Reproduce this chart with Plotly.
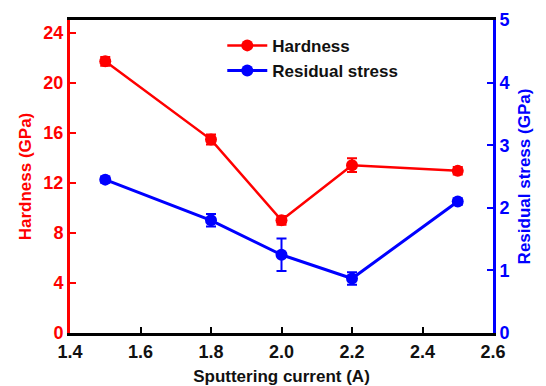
import plotly.graph_objects as go

# Sputtering current (A)
current = [1.5, 1.8, 2.0, 2.2, 2.5]
# Hardness (GPa) and its error
hardness = [21.7, 15.45, 9.0, 13.4, 12.95]
hardness_err = [0.35, 0.4, 0.35, 0.55, 0.3]
# Residual stress (GPa) and its error
stress = [2.45, 1.8, 1.25, 0.87, 2.1]
stress_err = [0.05, 0.1, 0.26, 0.1, 0.05]

x_ticks = [1.4, 1.6, 1.8, 2.0, 2.2, 2.4, 2.6]
x_tick_text = ["1.4", "1.6", "1.8", "2.0", "2.2", "2.4", "2.6"]
h_ticks = [0, 4, 8, 12, 16, 20, 24]
s_ticks = [0, 1, 2, 3, 4, 5]

RED = "#ff0000"
BLUE = "#0000ff"
FONT = "Liberation Sans, Arial, sans-serif"

fig = go.Figure()
fig.add_trace(go.Scatter(
    x=current, y=hardness, name="<b>Hardness</b>", mode="lines+markers",
    line=dict(color=RED, width=2.5),
    marker=dict(color=RED, size=12, symbol="circle"),
    error_y=dict(type="data", array=hardness_err, color=RED, thickness=2, width=5),
    yaxis="y",
))
fig.add_trace(go.Scatter(
    x=current, y=stress, name="<b>Residual stress</b>", mode="lines+markers",
    line=dict(color=BLUE, width=3),
    marker=dict(color=BLUE, size=12, symbol="circle"),
    error_y=dict(type="data", array=stress_err, color=BLUE, thickness=2, width=5),
    yaxis="y2",
))

fig.update_layout(
    width=546, height=386,
    margin=dict(l=70, r=53, t=20, b=53),
    paper_bgcolor="white", plot_bgcolor="white",
    font=dict(family=FONT, size=17, color="black"),
    showlegend=True,
    legend=dict(x=0.36, y=0.975, xanchor="left", yanchor="top",
                bgcolor="rgba(0,0,0,0)", font=dict(size=17, color="#111"),
                itemwidth=40, tracegroupgap=0),
    xaxis=dict(
        range=[1.4, 2.6], tickvals=x_ticks, ticktext=[f"<b>{t}</b>" for t in x_tick_text],
        ticks="inside", ticklen=6, tickwidth=2, tickcolor="black",
        showline=True, linecolor="black", linewidth=3, mirror=True,
        showgrid=False, zeroline=False, automargin=False,
        tickfont=dict(size=18, color="#111"),
        title=dict(text="<b>Sputtering current (A)</b>", font=dict(size=17, color="#111"), standoff=14),
    ),
    yaxis=dict(
        range=[0, 25], tickvals=h_ticks, ticktext=[f"<b>{t}</b>" for t in h_ticks],
        ticks="inside", ticklen=6, tickwidth=2, tickcolor=RED,
        showline=True, linecolor=RED, linewidth=3,
        showgrid=False, zeroline=False, automargin=False,
        tickfont=dict(size=18, color=RED),
        title=dict(text="<b>Hardness (GPa)</b>", font=dict(size=17, color=RED), standoff=8),
    ),
    yaxis2=dict(
        range=[0, 5], tickvals=s_ticks, ticktext=[f"<b>{t}</b>" for t in s_ticks],
        overlaying="y", side="right",
        ticks="inside", ticklen=6, tickwidth=2, tickcolor=BLUE,
        showline=True, linecolor=BLUE, linewidth=3,
        showgrid=False, zeroline=False, automargin=False,
        tickfont=dict(size=18, color=BLUE),
        title=dict(text="<b>Residual stress (GPa)</b>", font=dict(size=17, color=BLUE), standoff=10),
    ),
)

fig.write_html("out.html")
